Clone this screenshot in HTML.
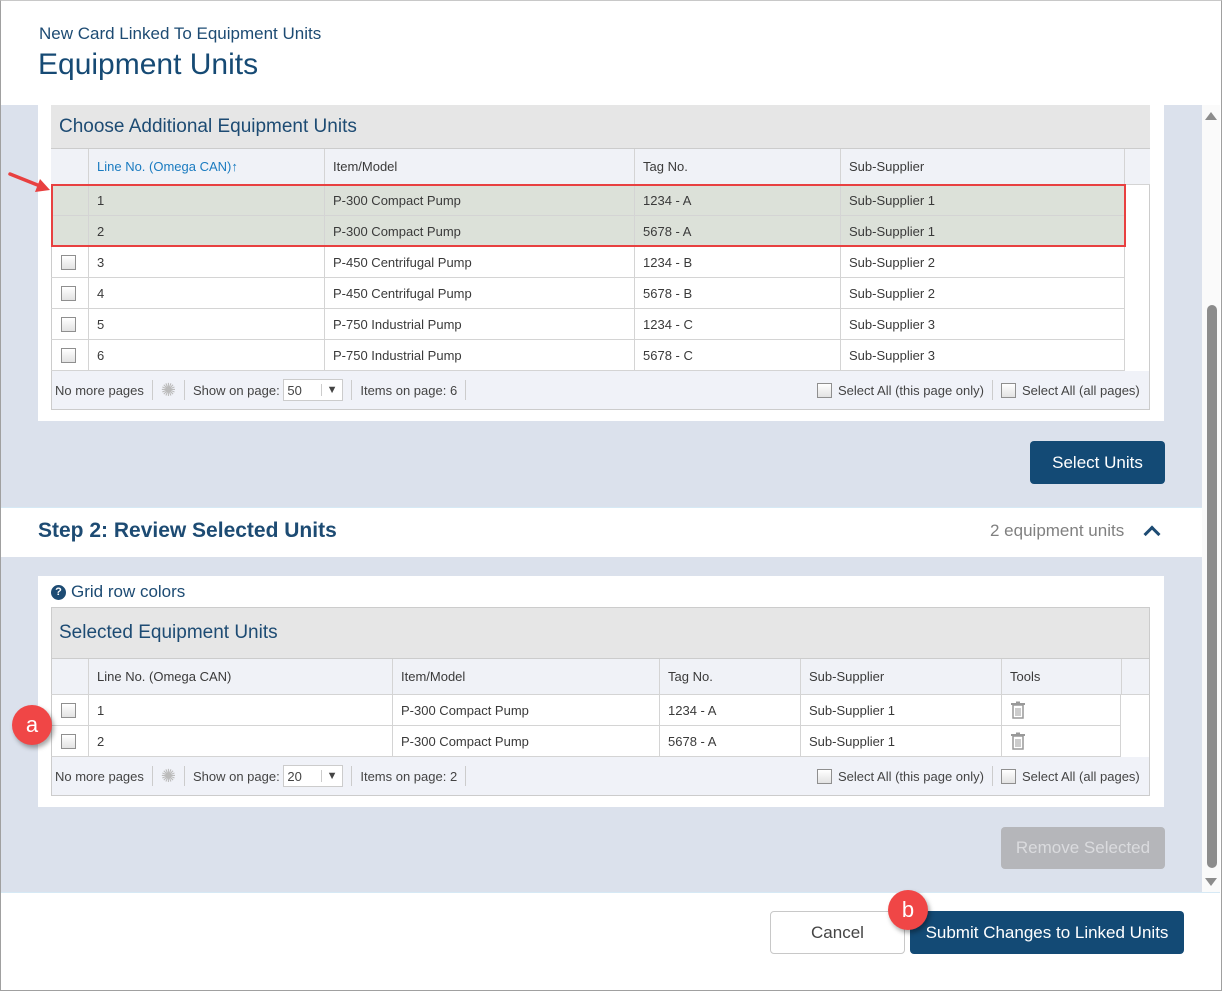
<!DOCTYPE html>
<html><head><meta charset="utf-8">
<style>
*{box-sizing:border-box;margin:0;padding:0}
body{width:1222px;height:991px;position:relative;overflow:hidden;background:#fff;font-family:"Liberation Sans",sans-serif;color:#333;font-size:13px}
.a{position:absolute}
.frame{left:0;top:0;width:1222px;height:991px;border:1px solid #a0a0a0;border-top-color:#c8c8c8}
.cell{position:absolute;border-right:1px solid #d4d4d4;border-bottom:1px solid #d4d4d4;padding-left:8px;display:flex;align-items:center;white-space:nowrap;color:#3a3a3a}
.cb{position:absolute;width:15px;height:15px;border:1px solid #8f8f8f;background:linear-gradient(#fff,#e2e2e2)}
.foot{position:absolute;display:flex;align-items:center;font-size:13px;color:#444;white-space:nowrap}
.sep{display:inline-block;width:1px;height:20px;background:#ccc;margin:0 8px}
.btn{position:absolute;border-radius:4px;display:flex;align-items:center;justify-content:center;font-size:17px}
.badge{position:absolute;width:40px;height:40px;border-radius:50%;background:#f04646;color:#fff;font-size:22px;display:flex;align-items:center;justify-content:center;box-shadow:2px 3px 5px rgba(0,0,0,.35)}
</style></head><body>
<div class="a" style="left:39px;top:24px;font-size:17px;color:#1d4b73">New Card Linked To Equipment Units</div>
<div class="a" style="left:38px;top:48px;font-size:30px;color:#164a74">Equipment Units</div>

<div class="a" style="left:1px;top:105px;width:1201px;height:787px;background:#dbe1ec"></div>
<div class="a" style="left:1202px;top:105px;width:18px;height:787px;background:#fafafa">
  <div class="a" style="left:3px;top:7px;width:0;height:0;border-left:6px solid transparent;border-right:6px solid transparent;border-bottom:8px solid #8c8c8c"></div>
  <div class="a" style="left:5px;top:200px;width:10px;height:563px;background:#8c8c8c;border-radius:5px"></div>
  <div class="a" style="left:3px;top:773px;width:0;height:0;border-left:6px solid transparent;border-right:6px solid transparent;border-top:8px solid #8c8c8c"></div>
</div>

<div class="a" style="left:38px;top:105px;width:1126px;height:316px;background:#fff"></div>
<div class="a" style="left:51px;top:105px;width:1099px;height:305px;border:1px solid #ccc;border-top:none;background:#fff"></div>
<div class="a" style="left:51px;top:105px;width:1099px;height:44px;background:#e6e6e6;border-bottom:1px solid #ccc;padding-left:8px;font-size:19px;color:#1d4b73;display:flex;align-items:center">Choose Additional Equipment Units</div>
<div class="a" style="left:51px;top:149px;width:1099px;height:36px;background:#f0f2f7"></div>
<div class="cell" style="left:51px;top:149px;width:38px;height:36px"></div>
<div class="cell" style="left:89px;top:149px;width:236px;height:36px;color:#1a7bc0">Line No. (Omega CAN) <span style="font-weight:bold">↑</span></div>
<div class="cell" style="left:325px;top:149px;width:310px;height:36px">Item/Model</div>
<div class="cell" style="left:635px;top:149px;width:206px;height:36px">Tag No.</div>
<div class="cell" style="left:841px;top:149px;width:284px;height:36px">Sub-Supplier</div>
<div class="cell" style="left:1125px;top:149px;width:25px;height:36px;border-right:none"></div>
<div class="a" style="left:51px;top:185px;width:1074px;height:62px;background:#dce1d9"></div>

<div id="rows1"></div>
<div class="a" style="left:51px;top:184px;width:1075px;height:63px;border:2px solid #e84040"></div>
<div class="a" style="left:51px;top:371px;width:1099px;height:39px;background:#f0f2f8;border:1px solid #ccc;border-top:none"></div>
<div class="foot" style="left:55px;top:371px;height:38px">No more pages<span class="sep"></span><span style="color:#bbb;font-size:18px">✺</span><span class="sep"></span>Show on page:&nbsp;<span style="display:inline-flex;border:1px solid #ccc;background:#fff;height:22px;width:60px;align-items:center"><span style="width:37px;padding-left:3px">50</span><span style="border-left:1px solid #ccc;width:22px;text-align:center;font-size:11px">▼</span></span><span class="sep"></span>Items on page: 6<span class="sep"></span></div>
<div class="foot" style="left:817px;top:371px;height:38px"><span class="cb" style="position:relative;margin-right:6px"></span>Select All (this page only)<span class="sep"></span><span class="cb" style="position:relative;margin-right:6px"></span>Select All (all pages)</div>

<div class="btn" style="left:1030px;top:441px;width:135px;height:43px;background:#134a75;color:#fff">Select Units</div>

<div class="a" style="left:1px;top:507px;width:1201px;height:50px;background:#fff;border-top:1px solid #d6e9f5"></div>
<div class="a" style="left:38px;top:519px;font-size:21px;font-weight:bold;color:#1d4b73">Step 2: Review Selected Units</div>
<div class="a" style="left:990px;top:521px;font-size:17px;color:#808080">2 equipment units</div>
<div class="a" style="left:1146px;top:528px;width:12px;height:12px;border-left:3px solid #1d4b73;border-top:3px solid #1d4b73;transform:rotate(45deg)"></div>

<div class="a" style="left:38px;top:576px;width:1126px;height:231px;background:#fff"></div>
<div class="a" style="left:51px;top:582px;font-size:17px;color:#1d4b73;display:flex;align-items:center"><span style="display:inline-flex;width:15px;height:15px;border-radius:50%;background:#1d4b73;color:#fff;font-size:11px;font-weight:bold;align-items:center;justify-content:center;margin-right:5px">?</span>Grid row colors</div>
<div class="a" style="left:51px;top:607px;width:1099px;height:189px;border:1px solid #ccc;background:#fff"></div>
<div class="a" style="left:51px;top:607px;width:1099px;height:52px;background:#e6e6e6;border:1px solid #ccc;padding-left:7px;font-size:19px;color:#1d4b73;display:flex;align-items:center">Selected Equipment Units</div>
<div class="a" style="left:51px;top:659px;width:1099px;height:36px;background:#f0f2f7;border-left:1px solid #ccc"></div>
<div class="cell" style="left:51px;top:659px;width:38px;height:36px"></div>
<div class="cell" style="left:89px;top:659px;width:304px;height:36px">Line No. (Omega CAN)</div>
<div class="cell" style="left:393px;top:659px;width:267px;height:36px">Item/Model</div>
<div class="cell" style="left:660px;top:659px;width:141px;height:36px">Tag No.</div>
<div class="cell" style="left:801px;top:659px;width:201px;height:36px">Sub-Supplier</div>
<div class="cell" style="left:1002px;top:659px;width:120px;height:36px">Tools</div>
<div class="cell" style="left:1122px;top:659px;width:28px;height:36px;border-right:1px solid #ccc"></div>
<div id="rows2"></div>
<div class="a" style="left:51px;top:757px;width:1099px;height:39px;background:#f0f2f8;border:1px solid #ccc;border-top:none"></div>
<div class="foot" style="left:55px;top:757px;height:38px">No more pages<span class="sep"></span><span style="color:#bbb;font-size:18px">✺</span><span class="sep"></span>Show on page:&nbsp;<span style="display:inline-flex;border:1px solid #ccc;background:#fff;height:22px;width:60px;align-items:center"><span style="width:37px;padding-left:3px">20</span><span style="border-left:1px solid #ccc;width:22px;text-align:center;font-size:11px">▼</span></span><span class="sep"></span>Items on page: 2<span class="sep"></span></div>
<div class="foot" style="left:817px;top:757px;height:38px"><span class="cb" style="position:relative;margin-right:6px"></span>Select All (this page only)<span class="sep"></span><span class="cb" style="position:relative;margin-right:6px"></span>Select All (all pages)</div>

<div class="btn" style="left:1001px;top:827px;width:164px;height:42px;background:#b5b6ba;color:#dadbde">Remove Selected</div>

<div class="a" style="left:1px;top:892px;width:1219px;height:1px;background:#d6e9f5"></div>
<div class="btn" style="left:770px;top:911px;width:135px;height:43px;border:1px solid #c8c8c8;color:#444;background:#fff">Cancel</div>
<div class="btn" style="left:910px;top:911px;width:274px;height:43px;background:#134a75;color:#fff">Submit Changes to Linked Units</div>

<div class="badge" style="left:12px;top:705px">a</div>
<div class="badge" style="left:888px;top:890px">b</div>
<svg class="a" style="left:0;top:165px" width="60" height="35"><line x1="10" y1="9" x2="40" y2="21" stroke="#e84040" stroke-width="3.5" stroke-linecap="round"/><polygon points="50,25 35,27 40,14" fill="#e84040"/></svg>

<div class="frame a"></div>

<script>
const lineNos=["1","2","3","4","5","6"];
const items=["P-300 Compact Pump","P-300 Compact Pump","P-450 Centrifugal Pump","P-450 Centrifugal Pump","P-750 Industrial Pump","P-750 Industrial Pump"];
const tags=["1234 - A","5678 - A","1234 - B","5678 - B","1234 - C","5678 - C"];
const subs=["Sub-Supplier 1","Sub-Supplier 1","Sub-Supplier 2","Sub-Supplier 2","Sub-Supplier 3","Sub-Supplier 3"];
function cell(parent,x,y,w,h,txt){const d=document.createElement('div');d.className='cell';d.style.cssText=`left:${x}px;top:${y}px;width:${w}px;height:${h}px`;d.textContent=txt;parent.appendChild(d);return d;}
function cb(parent,x,y){const c=document.createElement('div');c.className='cb';c.style.left=x+'px';c.style.top=y+'px';


parent.appendChild(c);}
const r1=document.getElementById('rows1');
lineNos.forEach((n,i)=>{const y=185+i*31;
 cell(r1,51,y,38,31,'');
 if(i>1)cb(r1,61,y+8);
 const c=cell(r1,89,y,236,31,n);
 
 
 cell(r1,325,y,310,31,items[i]);cell(r1,635,y,206,31,tags[i]);cell(r1,841,y,284,31,subs[i]);});
const r2=document.getElementById('rows2');
[0,1].forEach(i=>{const y=695+i*31;
 cell(r2,51,y,38,31,'').style.borderLeft='1px solid #ccc';
 cb(r2,61,y+8);
 cell(r2,89,y,304,31,lineNos[i]);cell(r2,393,y,267,31,items[i]);cell(r2,660,y,141,31,tags[i]);cell(r2,801,y,201,31,subs[i]);
 const t=cell(r2,1002,y,119,31,'');
 t.innerHTML='<svg width="16" height="18"><rect x="3" y="4" width="10" height="13" fill="none" stroke="#999" stroke-width="1.5"/><line x1="1" y1="3" x2="15" y2="3" stroke="#999" stroke-width="2"/><rect x="6" y="0.5" width="4" height="2" fill="#999"/><line x1="6" y1="7" x2="6" y2="15" stroke="#999"/><line x1="8" y1="7" x2="8" y2="15" stroke="#999"/><line x1="10" y1="7" x2="10" y2="15" stroke="#999"/></svg>';
 
 
});
</script>
</body></html>
